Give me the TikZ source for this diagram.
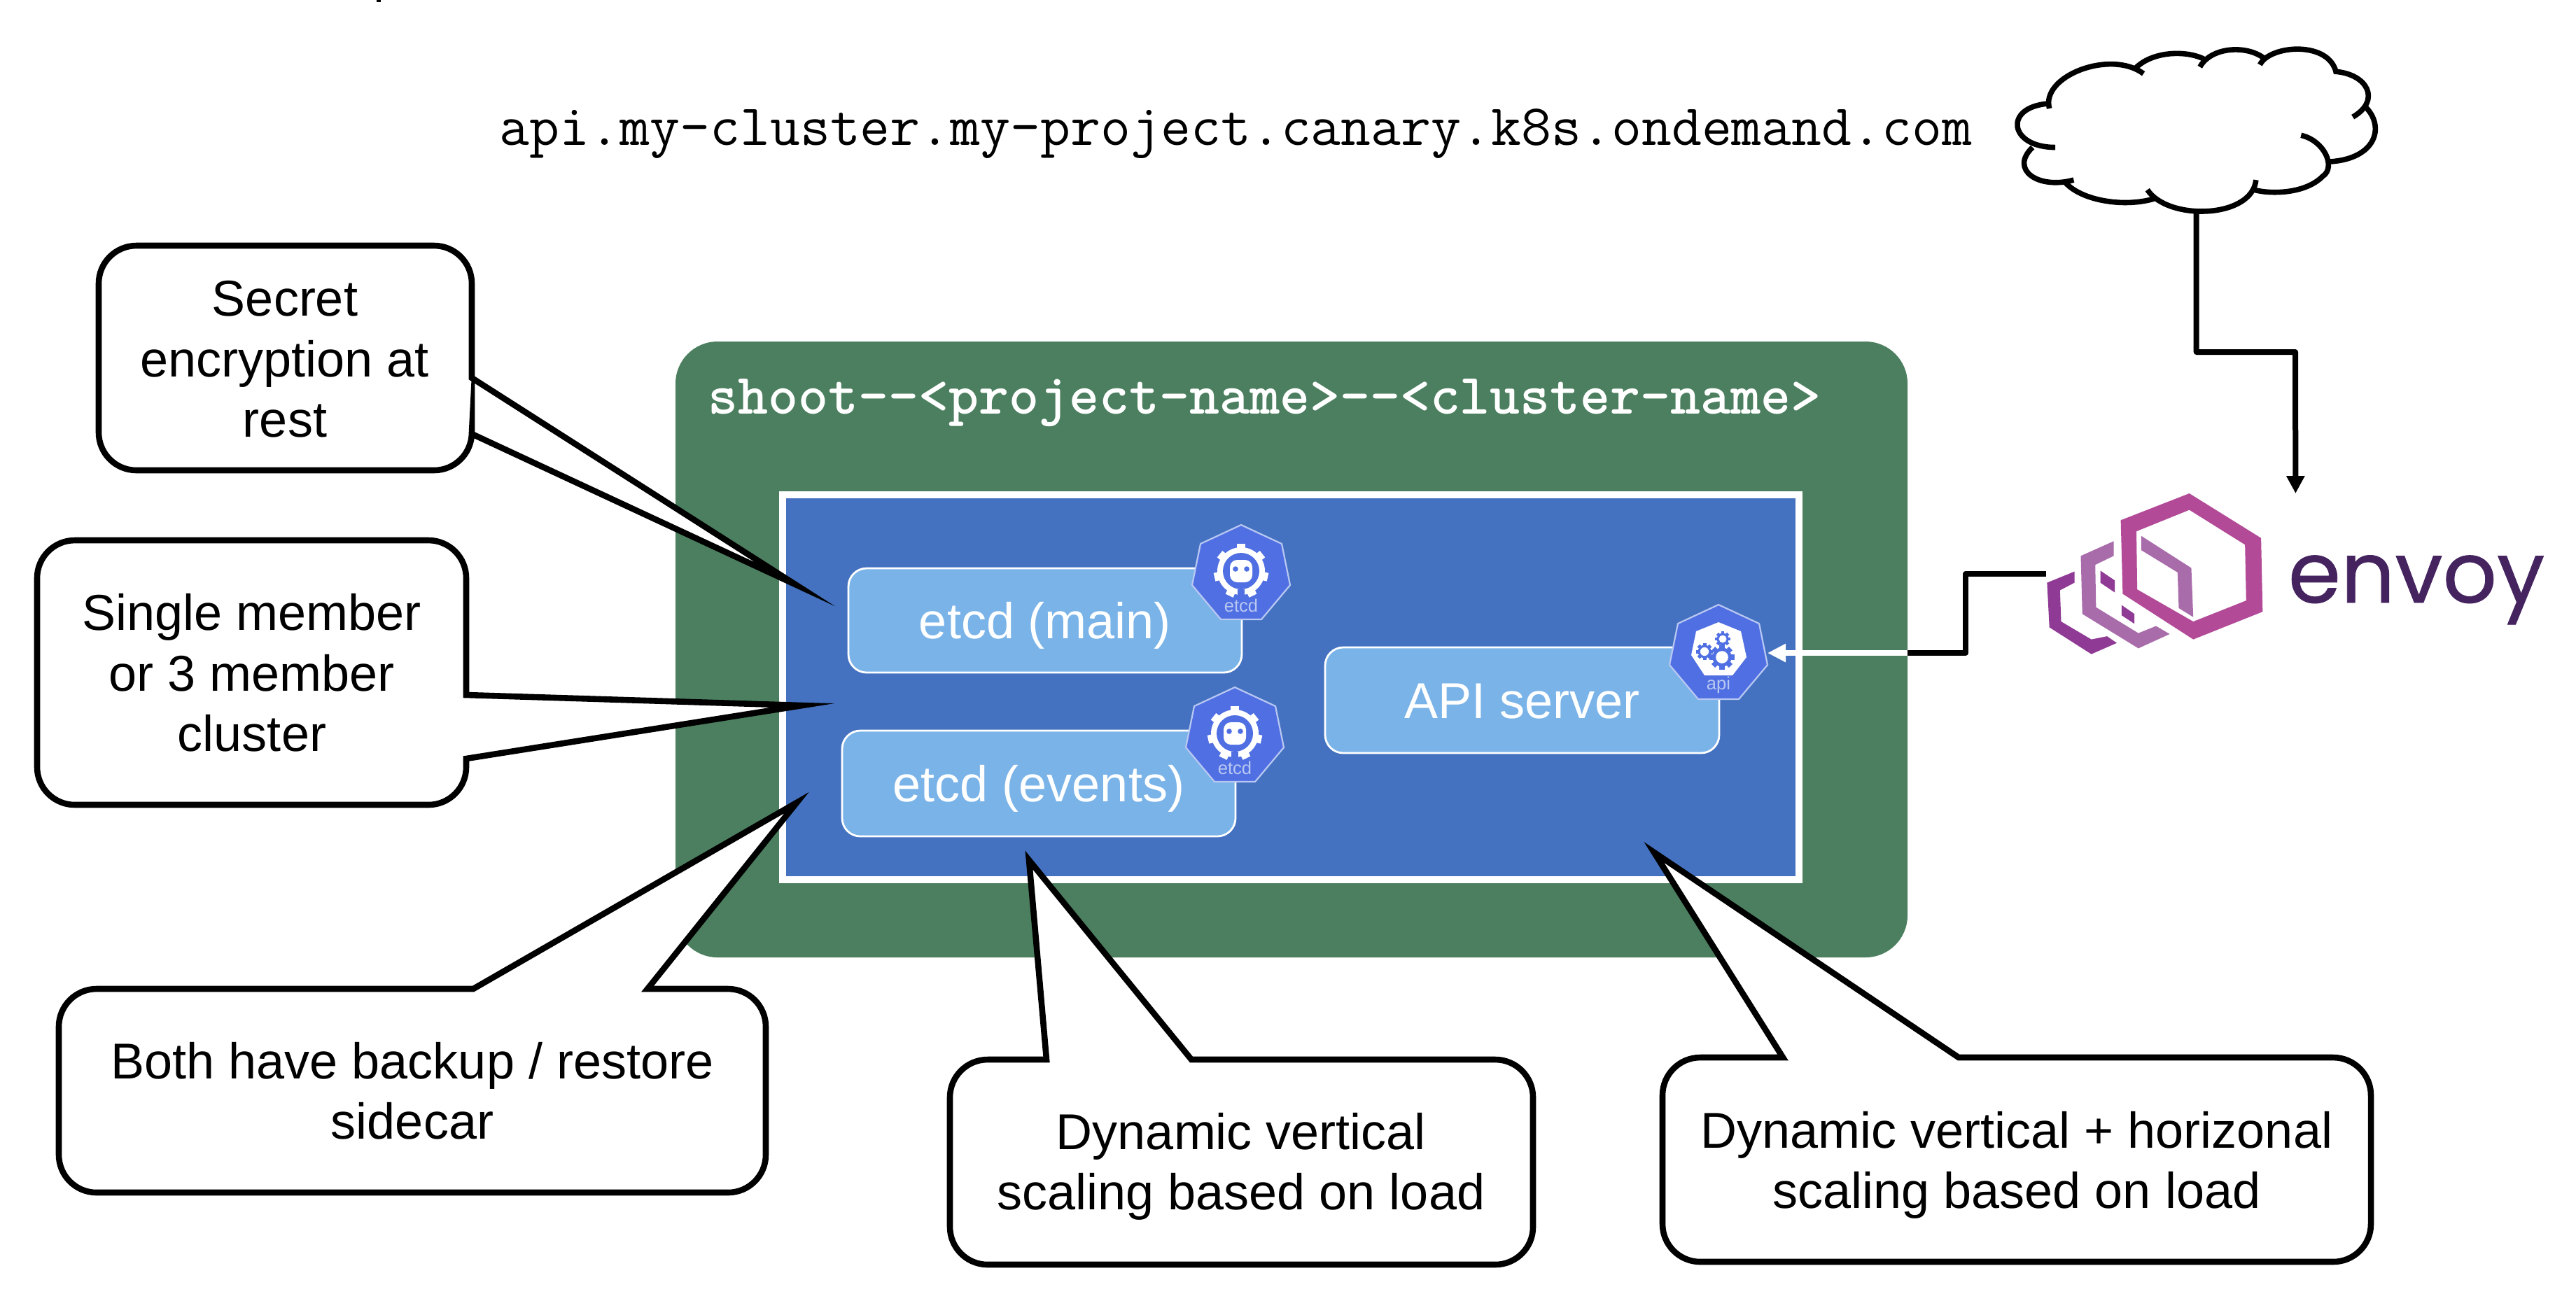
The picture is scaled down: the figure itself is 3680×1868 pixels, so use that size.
\documentclass[tikz,border=0pt]{standalone}
\usepackage{fontspec}
\setmainfont{Liberation Sans}
\newfontfamily\logofam[FakeBold=0.6]{Poppins}
\usetikzlibrary{arrows.meta}
\definecolor{shootgreen}{HTML}{4B7F5F}
\definecolor{nsblue}{HTML}{4472C0}
\definecolor{appblue}{HTML}{7AB3E8}
\definecolor{iconblue}{HTML}{4F6FE3}
\definecolor{iconlabel}{HTML}{B9C8F2}
\definecolor{envoymag}{HTML}{B24A97}
\definecolor{envoymid}{HTML}{A96CAB}
\definecolor{envoydark}{HTML}{8F3A94}
\definecolor{envoytext}{HTML}{45235F}
\newcommand{\bodyfont}{\fontsize{18}{21.6}\selectfont}
\newcommand{\urlfont}{\ttfamily\fontsize{20.84}{24}\selectfont}
\newcommand{\ttlfont}{\ttfamily\bfseries\fontsize{20.46}{24}\selectfont\addfontfeature{FakeBold=0.8}}
% callout with its tail on the right edge: l,t,r,b, y1, tip, y2
\newcommand{\calloutright}[7]{%
  \draw[callout] (#1,#2+54) arc[start angle=180,end angle=90,radius=13.5pt]
    -- (#3-54,#2) arc[start angle=90,end angle=0,radius=13.5pt]
    -- (#3,#5) -- (#6) -- (#3,#7) -- (#3,#4-54) arc[start angle=0,end angle=-90,radius=13.5pt]
    -- (#1+54,#4) arc[start angle=-90,end angle=-180,radius=13.5pt] -- cycle;}
% callout with its tail on the top edge: l,t,r,b, x1, tip, x2
\newcommand{\callouttop}[7]{%
  \draw[callout] (#1,#2+54) arc[start angle=180,end angle=90,radius=13.5pt]
    -- (#5,#2) -- (#6) -- (#7,#2) -- (#3-54,#2) arc[start angle=90,end angle=0,radius=13.5pt]
    -- (#3,#4-54) arc[start angle=0,end angle=-90,radius=13.5pt]
    -- (#1+54,#4) arc[start angle=-90,end angle=-180,radius=13.5pt] -- cycle;}
\tikzset{
  x=.25pt,y=-.25pt,
  callout/.style={draw=black,fill=white,line width=2.15pt,miter limit=40,line join=miter},
  calltext/.style={inner sep=0pt,align=center,font=\bodyfont,text=black},
  appbox/.style={draw=white,fill=appblue,line width=.7pt,rounded corners=6.5pt,inner sep=0pt,outer sep=0pt,
    font=\bodyfont,text=white,anchor=north west},
  wire/.style={draw=black,line width=2pt,line join=round},
  cloudline/.style={draw=black,line width=1.9pt,line cap=butt},
  iconhept/.style={draw=iconlabel,fill=iconblue,line width=.55pt,line join=round},
  icontext/.style={inner sep=0pt,text=iconlabel,font=\fontsize{6.4}{7}\selectfont},
  etcdicon/.pic={
    \draw[iconhept] (0,0)--(58,27)--(70,86)--(29,135)--(-29,135)--(-70,86)--(-58,27)--cycle;
    \begin{scope}[shift={(0,66)}]
      \fill[white] (0,0) circle[radius=34];
      \foreach \a in {0,51.43,102.86,154.29,205.71,257.14,308.57}
        \fill[white,rotate=\a+90] (25,-6) rectangle (39,6);
      \fill[iconblue] (0,0) circle[radius=26];
      \fill[iconblue] (-5,26) rectangle (5,36);
      \fill[white,rounded corners=2.6pt] (-16,-16) rectangle (16,16);
      \fill[iconblue] (-8,-3) circle[radius=3.8] (8,-3) circle[radius=3.8];
    \end{scope}
    \node[icontext,anchor=base] (-label) at (0,124) {etcd};
  },
  apiicon/.pic={
    \draw[iconhept] (0,0)--(58,27)--(70,86)--(29,135)--(-29,135)--(-70,86)--(-58,27)--cycle;
    \fill[white] (0,25)--(32,38)--(40,75)--(20,101)--(-20,101)--(-39,72)--(-32,38)--cycle;
    \foreach \cx/\cy/\rr in {-20/67/9,6/49/8,5/75/13}{
      \begin{scope}[shift={(\cx,\cy)}]
        \foreach \a in {0,45,...,315}
          \fill[iconblue,rotate=\a] (\rr,-.28*\rr) rectangle (1.35*\rr,.28*\rr);
        \fill[iconblue] (0,0) circle[radius=1.05*\rr];
        \fill[white] (0,0) circle[radius=.68*\rr];
      \end{scope}
    }
    \node[icontext,anchor=base] (-label) at (0,121) {api};
  }
}
\begin{document}
\begin{tikzpicture}
\useasboundingbox (0,0) rectangle (3680,1868);
\fill[white] (0,0) rectangle (3680,1868);
% residual mark at the top edge
\fill[black] (538,0) rectangle (544,3);

% shoot namespace
\path[fill=shootgreen,rounded corners=15pt] (965,488) rectangle (2725,1368);
\node[anchor=base west,inner sep=0pt,font=\ttlfont,text=white] (shoot) at (1011,591)
  {shoot-{}-<project-name>-{}-<cluster-name>};
\path[fill=nsblue,draw=white,line width=2.5pt] (1118,707) rectangle (2570,1257);

% application boxes
\node[appbox,minimum width=140.5pt,text height=25pt,text depth=12.25pt] (etcdmain) at (1212,812) {etcd (main)};
\node[appbox,minimum width=140.5pt,text height=25.25pt,text depth=12.5pt] (etcdevents) at (1203,1044) {etcd (events)};
\node[appbox,minimum width=140.75pt,text height=25.25pt,text depth=12.5pt] (apiserver) at (1893,925) {API server};

\pic (iconmain) at (1773,750) {etcdicon};
\pic (iconevents) at (1764,982) {etcdicon};
\pic (iconapi) at (2455,864) {apiicon};

% envoy logo and cloud
\begin{scope}[shift={(2800,0)},xscale=.56,yscale=.638]
  \fill[envoydark] (292,1280)--(292,1305)--(255,1322)--(258,1392)--(335,1432)--(375,1425)--(400,1440)--(335,1465)--(228,1405)--(222,1305)--cycle;
  \fill[envoymid] (392,1212)--(392,1245)--(345,1265)--(347,1360)--(455,1418)--(500,1402)--(535,1420)--(455,1452)--(312,1375)--(308,1245)--cycle;
  \fill[envoydark] (358,1278)--(395,1300)--(395,1327)--(358,1305)--cycle;
  \fill[envoydark] (412,1355)--(445,1375)--(445,1397)--(412,1378)--cycle;
  \fill[envoymid] (462,1200)--(590,1272)--(595,1382)--(558,1362)--(555,1282)--(462,1232)--cycle;
  \fill[envoymag,even odd rule] (410,1165)--(585,1105)--(768,1205)--(772,1370)--(595,1432)--(415,1330)--cycle
     (450,1190)--(585,1142)--(727,1220)--(730,1345)--(595,1392)--(452,1320)--cycle;
  \coordinate (logoleft) at (220,1285);
  \coordinate (cloudfoot) at (603,478);
  \coordinate (logotop) at (856,1105);
  \draw[cloudline] (228,243) .. controls (205,170) and (385,110) .. (468,165);
  \draw[cloudline] (445,155) .. controls (490,112) and (585,112) .. (628,135);
  \draw[cloudline] (612,150) .. controls (640,105) and (730,100) .. (775,130);
  \draw[cloudline] (765,145) .. controls (790,100) and (945,90) .. (960,165);
  \draw[cloudline] (955,160) .. controls (1040,165) and (1075,225) .. (1002,262);
  \draw[cloudline] (1035,240) .. controls (1085,285) and (1060,355) .. (945,362);
  \draw[cloudline] (870,303) .. controls (930,315) and (960,375) .. (925,395) .. controls (880,435) and (790,435) .. (750,425);
  \draw[cloudline] (755,403) .. controls (745,490) and (530,495) .. (478,425);
  \draw[cloudline] (495,445) .. controls (420,465) and (305,450) .. (265,405);
  \draw[cloudline] (290,403) .. controls (200,425) and (125,380) .. (185,330);
  \draw[cloudline] (243,330) .. controls (125,330) and (110,240) .. (225,232);
\end{scope}
\node[anchor=base west,inner sep=0pt,text=envoytext,font=\logofam\fontsize{30.3}{36}\selectfont] (envoy) at (3268,861) {envoy};
\node[anchor=base west,inner sep=0pt,font=\urlfont] (url) at (713,207)
  {api.my-cluster.my-project.canary.k8s.ondemand.com};

% connectors
\coordinate (shootedge) at (2725,933);
\coordinate (apitip) at (2525,933);
\coordinate (wirebend) at (2808,820);
\draw[wire,-{Triangle[length=6.25pt,width=6.2pt]}] (cloudfoot) |- (3279,503) -- (logotop);
\draw[wire] (logoleft) -| (wirebend) -- (2808,933) -- (shootedge);
\draw[draw=white,line width=2pt,-{Triangle[length=6.5pt,width=6.2pt]},fill=white] (shootedge) -- (apitip);

% callouts
\calloutright{141}{351}{674}{672}{540}{1136,835}{620}
\node[calltext] (c1) at (407,521) {\strut Secret\\\strut encryption at\\\strut rest};

\calloutright{53}{772}{666}{1150}{993}{1146,1008}{1084}
\node[calltext] (c2) at (360,970) {\strut Single member\\\strut or 3 member\\\strut cluster};

\callouttop{84}{1413}{1094}{1704}{676}{1138,1147}{925}
\node[calltext] (c3) at (589,1567) {\strut Both have backup / restore\\\strut sidecar};

\callouttop{1357}{1514}{2190}{1807}{1495}{1470,1229}{1702}
\node[calltext] (c4) at (1773,1668) {\strut Dynamic vertical\\\strut scaling based on load};

\callouttop{2375}{1511}{3387}{1803}{2547}{2363,1218}{2798}
\node[calltext] (c5) at (2881,1666) {\strut Dynamic vertical + horizonal\\\strut scaling based on load};
\end{tikzpicture}
\end{document}
